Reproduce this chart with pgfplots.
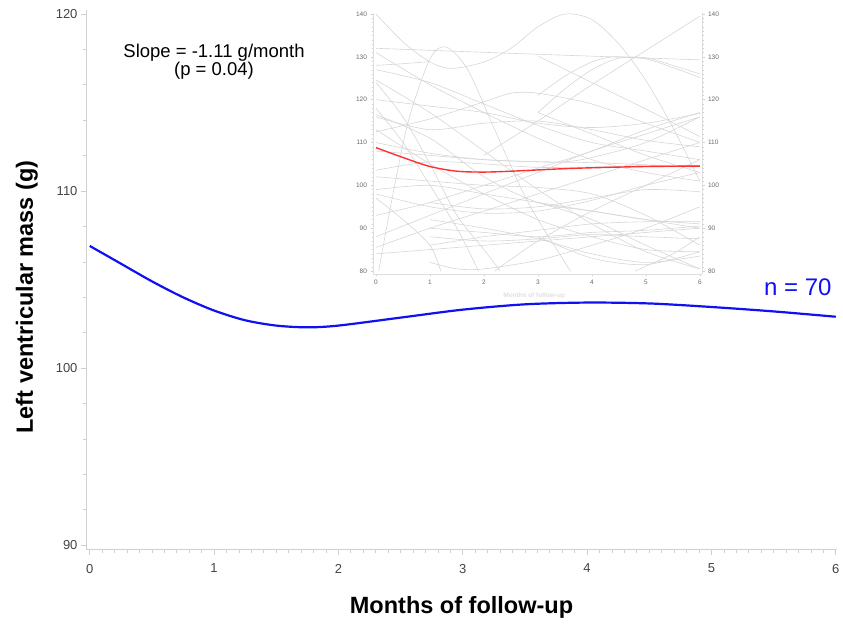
\documentclass[border=0pt]{standalone}
\usepackage{pgfplots}
\pgfplotsset{compat=1.18}
\usepackage{fontspec}
\setmainfont{Liberation Sans}
\definecolor{tickgray}{HTML}{444444}
\definecolor{axgray}{HTML}{D0D0D0}
\definecolor{spag}{HTML}{D6D6D6}
\definecolor{myred}{HTML}{FF3030}
\definecolor{myblue}{HTML}{1010F0}
\pgfplotsset{sp/.style={draw=spag, mark=none, line width=0.6pt, smooth}}
\begin{document}
\begin{tikzpicture}[x=1pt,y=1pt]
\path[use as bounding box] (0,0) rectangle (843,635);
% ---------------- main axis ----------------
\begin{axis}[at={(86pt,85.5pt)}, anchor=south west, scale only axis,
  width=751pt, height=539pt,
  xmin=-0.03, xmax=6.01, ymin=89.75, ymax=120.2,
  axis x line*=bottom, axis y line*=left,
  axis line style={-, draw=axgray, line width=0.8pt},
  xtick={0,1,2,3,4,5,6}, ytick={90,100,110,120},
  minor x tick num=9, minor y tick num=4,
  tick align=outside, major tick length=5pt, minor tick length=3pt,
  tick style={draw=axgray, line width=0.7pt},
  ticklabel style={font=\fontsize{13}{13}\selectfont, text=tickgray},
  xticklabel style={yshift=-6pt},
  /pgf/number format/assume math mode=true,
  xlabel={Months of follow-up}, ylabel={Left ventricular mass (g)},
  label style={font=\bfseries\fontsize{23.5}{23.5}\selectfont},
  xlabel style={at={(axis description cs:0.5,-0.1067)}, anchor=center},
  ylabel style={at={(axis description cs:-0.0786,0.4685)}, anchor=center},
  clip=false]
\addplot[myblue, line width=2.2pt, smooth] coordinates {
 (0,106.9) (0.25,105.9) (0.5,104.9) (0.75,104.0) (1,103.25) (1.25,102.7)
 (1.5,102.4) (1.75,102.3) (2,102.4) (2.5,102.85) (3,103.3) (3.5,103.6)
 (4,103.7) (4.5,103.65) (5,103.45) (5.5,103.2) (6,102.9)};
\end{axis}
\node[font=\fontsize{18.5}{18}\selectfont, align=center] at (214,573) {Slope = -1.11 g/month\\(p = 0.04)};
\node[font=\fontsize{24}{24}\selectfont, text=myblue, anchor=base east] at (835,339) {n = 70};
% ---------------- inset ----------------
\begin{axis}[at={(373pt,361pt)}, anchor=south west, scale only axis,
  width=329pt, height=261pt,
  xmin=-0.055, xmax=6.04, ymin=79.3, ymax=140.24,
  axis x line*=bottom, axis y line*=left,
  axis line style={-, draw=axgray!70, line width=0.5pt},
  xtick={0,1,2,3,4,5,6}, ytick={80,90,100,110,120,130,140},
  minor x tick num=9, minor y tick num=9,
  tick align=outside, major tick length=2.5pt, minor tick length=1.5pt,
  tick style={draw=axgray, line width=0.4pt},
  ticklabel style={font=\fontsize{6.5}{6.5}\selectfont, text=tickgray!80},
  /pgf/number format/assume math mode=true,
  xlabel={Months of follow-up},
  xlabel style={font=\bfseries\fontsize{6.5}{6.5}\selectfont, text=gray!25, at={(axis description cs:0.49,-0.085)}, anchor=center}]
\addplot[sp] coordinates {(0,132) (3,130.6) (6,129.3)};
\addplot[sp] coordinates {(0,128) (0.5,128.4) (1,128.9)};
\addplot[sp] coordinates {(0,140) (0.5,133.5) (1,128.8) (1.4,127.3) (2,128.8) (2.5,132) (3,137) (3.5,140) (4,138.7) (4.5,133) (5,124.5) (5.5,113.5) (6,101)};
\addplot[sp] coordinates {(0.05,80) (0.3,97) (0.6,115) (1,129.5) (1.3,132.3) (1.7,127) (2.2,113) (2.7,99) (3,92) (3.3,86) (3.6,80)};
\addplot[sp] coordinates {(2,107) (3,115) (4,123.5) (5,131.5) (6,139.5)};
\addplot[sp] coordinates {(3,121) (3.5,125.5) (4,128.8) (4.4,130) (5,129.5) (5.5,127.5) (6,125.2)};
\addplot[sp] coordinates {(3,117) (3.5,122.5) (4,127) (4.5,129.7) (5,129.8) (5.5,128) (6,126)};
\addplot[sp] coordinates {(3,130.2) (4,124) (5,117.8) (6,111.4)};
\addplot[sp] coordinates {(0,124.6) (1,117) (2,108) (3,99) (4,91) (5,84.5) (6,80.5)};
\addplot[sp] coordinates {(0,131) (1,123.5) (2,117) (3,111) (4,106) (5,103) (6,101)};
\addplot[sp] coordinates {(0,120) (1,118.5) (2,117) (3,114.5) (4,113.5) (5,114.5) (6,116.8)};
\addplot[sp] coordinates {(0,116) (1,113) (2,114.5) (3,115) (4,113) (5,110.5) (6,109)};
\addplot[sp] coordinates {(0,112.5) (1,115.5) (2,119.5) (2.5,121.5) (3,121.5) (4,119) (5,114.5) (6,110)};
\addplot[sp] coordinates {(0,108) (1,107) (2,106) (3,105.5) (3.5,105.5) (4,106.5) (5,110) (6,116)};
\addplot[sp] coordinates {(0,110) (1,107.5) (2,106) (3,105.5) (4,105.3) (5,104.8) (6,104.5)};
\addplot[sp] coordinates {(0,103.5) (1,105.5) (2,105) (3,104.2) (4,104.3) (5,104.6) (6,104.7)};
\addplot[sp] coordinates {(0,99) (1,100) (2,98) (3,96) (4,94) (5,92) (6,90)};
\addplot[sp] coordinates {(0,98) (1,95) (2,93.5) (3,94) (4,96.5) (5,100) (6,103)};
\addplot[sp] coordinates {(0,97) (0.5,92) (1,86) (1.2,80)};
\addplot[sp] coordinates {(0,118) (0.5,110) (1,100) (1.5,90) (1.9,80)};
\addplot[sp] coordinates {(0,124) (0.5,116) (1,105) (1.5,93) (2,85) (2.3,80)};
\addplot[sp] coordinates {(0,93) (1,96) (2,100) (3,104) (4,108) (5,113) (6,117)};
\addplot[sp] coordinates {(0,88) (1,93) (2,98) (3,103) (4,108) (5,112) (6,116)};
\addplot[sp] coordinates {(0,85.5) (1,90) (2,94) (3,98) (4,102) (5,106) (6,110)};
\addplot[sp] coordinates {(0,84) (1,85) (2,86) (3,87) (4,88) (5,89) (6,90)};
\addplot[sp] coordinates {(1,90) (2,89) (3,88) (4,89) (5,89.5) (6,90.5)};
\addplot[sp] coordinates {(1,88) (2,87) (3,87.5) (4,88.5) (5,88) (6,87.5)};
\addplot[sp] coordinates {(1,86) (2,88) (3,89.5) (4,91) (5,91.5) (6,91.5)};
\addplot[sp] coordinates {(1,92) (2,90) (3,87.5) (4,84) (5,82) (6,83.5)};
\addplot[sp] coordinates {(1,82) (1.5,80.5) (2,80.5) (3,82.5) (4,86) (5,90) (6,95)};
\addplot[sp] coordinates {(2.2,80) (3,87) (4,94) (5,100) (6,106)};
\addplot[sp] coordinates {(3,96) (4,92) (5,86) (6,80.5)};
\addplot[sp] coordinates {(0,102) (1,101) (2,100) (3,99.5) (4,98) (5,93) (6,86)};
\addplot[sp] coordinates {(0,113) (1,105) (2,98) (3,92) (4,88) (5,85) (6,84.5)};
\addplot[sp] coordinates {(4.8,80) (5.5,84) (6,88)};
\addplot[sp] coordinates {(0,116.5) (1,111) (2,102) (3,96) (4,94) (5,92) (6,91)};
\addplot[sp] coordinates {(3,117) (4,112) (5,107) (6,103)};
\addplot[sp] coordinates {(0,127) (1,124) (2,119) (3,114) (4,110) (5,108) (6,106)};
\addplot[sp] coordinates {(1,96) (2,94.5) (3,95) (4,97) (5,99) (6,98.5)};
\addplot[sp] coordinates {(3,88) (4,83) (5,81.5) (6,84.5)};
\addplot[myred, line width=1.4pt, smooth] coordinates {
 (0,108.8) (0.5,106.5) (1,104.4) (1.5,103.3) (2,103.1) (2.5,103.3) (3,103.6)
 (3.5,103.9) (4,104.1) (5,104.4) (6,104.5)};
\end{axis}
% right axis of the inset
\begin{axis}[at={(373pt,361pt)}, anchor=south west, scale only axis,
  width=329pt, height=261pt,
  xmin=-0.055, xmax=6.04, ymin=79.3, ymax=140.24,
  axis x line=none, axis y line*=right,
  axis line style={-, draw=axgray!70, line width=0.5pt},
  ytick={80,90,100,110,120,130,140}, minor y tick num=9,
  tick align=outside, major tick length=2.5pt, minor tick length=1.5pt,
  tick style={draw=axgray, line width=0.4pt},
  ticklabel style={font=\fontsize{6.5}{6.5}\selectfont, text=tickgray!80},
  /pgf/number format/assume math mode=true]
\addplot[draw=none] coordinates {(0,100)};
\end{axis}
\end{tikzpicture}
\end{document}
